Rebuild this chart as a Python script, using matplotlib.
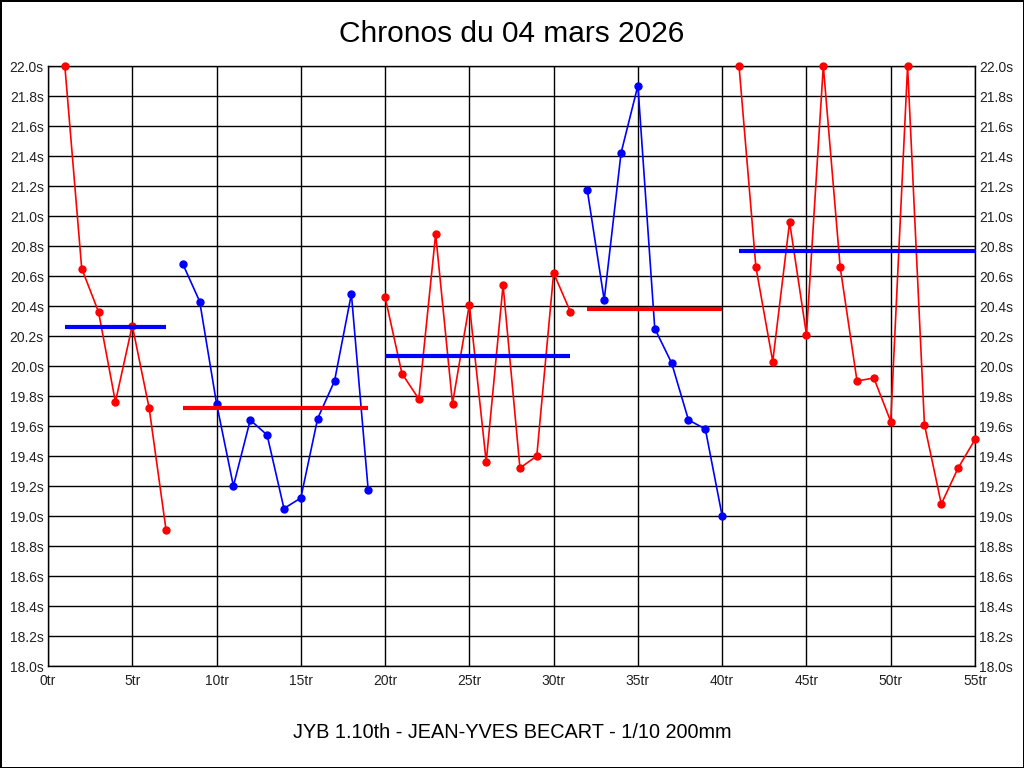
import matplotlib
matplotlib.use("Agg")
import matplotlib.pyplot as plt
import numpy as np

# Lap numbers and times (s) for each run segment
laps_1 = [1, 2, 3, 4, 5, 6, 7]
times_1 = [22.00, 20.65, 20.36, 19.76, 20.27, 19.72, 18.91]

laps_2 = [8, 9, 10, 11, 12, 13, 14, 15, 16, 17, 18, 19]
times_2 = [20.68, 20.43, 19.75, 19.20, 19.64, 19.54, 19.05, 19.12, 19.65, 19.90, 20.48, 19.17]

laps_3 = [20, 21, 22, 23, 24, 25, 26, 27, 28, 29, 30, 31]
times_3 = [20.46, 19.95, 19.78, 20.88, 19.75, 20.41, 19.36, 20.54, 19.32, 19.40, 20.62, 20.36]

laps_4 = [32, 33, 34, 35, 36, 37, 38, 39, 40]
times_4 = [21.17, 20.44, 21.42, 21.87, 20.25, 20.02, 19.64, 19.58, 19.00]

laps_5 = [41, 42, 43, 44, 45, 46, 47, 48, 49, 50, 51, 52, 53, 54, 55]
times_5 = [22.00, 20.66, 20.03, 20.96, 20.21, 22.00, 20.66, 19.90, 19.92, 19.63, 22.00, 19.61, 19.08, 19.32, 19.51]

segment_means = [20.26, 19.72, 20.07, 20.38, 20.77]
segment_colors = ["#ff0000", "#0000ff", "#ff0000", "#0000ff", "#ff0000"]
mean_colors = ["#0000ff", "#ff0000", "#0000ff", "#ff0000", "#0000ff"]

x_ticks = list(range(0, 56, 5))
x_tick_labels = [f"{v}tr" for v in x_ticks]
y_ticks = [round(18.0 + 0.2 * i, 1) for i in range(21)]
y_tick_labels = [f"{v:.1f}s" for v in y_ticks]

title = "Chronos du 04 mars 2026"
footer = "JYB 1.10th - JEAN-YVES BECART - 1/10 200mm"

plt.rcParams['font.family'] = ['Liberation Sans', 'DejaVu Sans']

fig = plt.figure(figsize=(10.24, 7.68), dpi=100, facecolor="white",
                 edgecolor="black", linewidth=2)
W, H = 1024, 768
left, right, top, bottom = 48, 975, 66, 666
ax = fig.add_axes([left / W, 1 - bottom / H, (right - left) / W, (bottom - top) / H])

segments = [(laps_1, times_1), (laps_2, times_2), (laps_3, times_3),
            (laps_4, times_4), (laps_5, times_5)]
for (lx, ty), c, m, mc in zip(segments, segment_colors, segment_means, mean_colors):
    ax.plot(lx, ty, color=c, lw=1.2, marker="o", ms=5, zorder=3, clip_on=False)
    ax.plot([lx[0], lx[-1]], [m, m], color=mc, lw=3, zorder=4, solid_capstyle="butt")

ax.set_xlim(0, 55)
ax.set_ylim(18.0, 22.0)
ax.set_xticks(x_ticks)
ax.set_xticklabels(x_tick_labels)
ax.set_yticks(y_ticks)
ax.set_yticklabels(y_tick_labels)
ax.grid(True, color="black", lw=1)
ax.set_axisbelow(True)
ax.tick_params(axis="both", length=0, labelsize=10, colors="#222222")
ax.tick_params(axis="y", pad=3, labelright=True, right=False)
ax.tick_params(axis="x", pad=6)
for s in ax.spines.values():
    s.set_color("black")
    s.set_linewidth(1)

fig.text(0.5, 1 - 34 / H, title, ha="center", va="center", fontsize=21.5, color="black")
fig.text(0.5, 1 - 733 / H, footer, ha="center", va="center", fontsize=14.3, color="black")

fig.savefig("out.png", dpi=100, facecolor="white", edgecolor="black")
